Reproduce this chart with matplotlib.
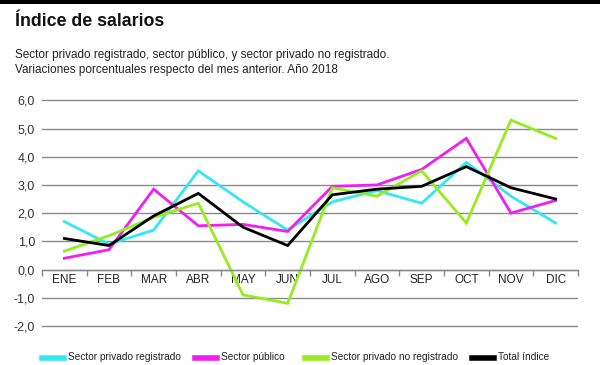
import matplotlib
matplotlib.use("Agg")
import matplotlib.pyplot as plt
from matplotlib.lines import Line2D
from matplotlib.patches import Rectangle

plt.rcParams['font.family'] = ['Liberation Sans', 'DejaVu Sans']

# Monthly data, % change vs previous month (2018)
months = ["ENE", "FEB", "MAR", "ABR", "MAY", "JUN",
          "JUL", "AGO", "SEP", "OCT", "NOV", "DIC"]
privado_registrado = [1.7, 0.9, 1.4, 3.5, 2.4, 1.4, 2.4, 2.8, 2.35, 3.8, 2.6, 1.65]
publico = [0.4, 0.7, 2.85, 1.55, 1.6, 1.35, 2.95, 3.0, 3.55, 4.65, 2.0, 2.45]
privado_no_registrado = [0.65, 1.2, 1.85, 2.35, -0.9, -1.2, 2.9, 2.6, 3.5, 1.65, 5.3, 4.65]
total = [1.1, 0.85, 1.9, 2.7, 1.5, 0.85, 2.65, 2.85, 2.95, 3.65, 2.9, 2.5]

series = [
    ("Sector privado registrado", privado_registrado, "#33e8f0"),
    ("Sector público", publico, "#f01ef0"),
    ("Sector privado no registrado", privado_no_registrado, "#96ec1e"),
    ("Total índice", total, "#000000"),
]

fig = plt.figure(figsize=(6.0, 3.65), dpi=100)
ax = fig.add_axes([0.07, 0.1025, 0.8933, 0.6249])

x = list(range(len(months)))
for label, vals, color in series:
    ax.plot(x, vals, color=color, linewidth=2.0, solid_joinstyle="miter")

ax.set_xlim(-0.5, len(months) - 0.5)
ax.set_ylim(-2.06, 6.03)
ax.set_yticks(range(-2, 7))
ax.set_yticklabels([f"{v},0" for v in range(-2, 7)])
ax.yaxis.grid(True, color="#8a8a8a", linewidth=1.0)
ax.set_axisbelow(True)

for s in ["top", "right", "left"]:
    ax.spines[s].set_visible(False)
ax.spines["bottom"].set_position(("data", 0))
ax.spines["bottom"].set_color("#8a8a8a")
ax.spines["bottom"].set_linewidth(1.0)

ax.set_xticks(x)
ax.set_xticklabels(months)
ax.set_xticks([i - 0.5 for i in range(len(months) + 1)], minor=True)
ax.tick_params(axis="x", which="major", length=0, pad=3.5, labelsize=8.5, labelcolor="#222222")
ax.tick_params(axis="x", which="minor", length=4, color="#8a8a8a", width=1.0)
ax.tick_params(axis="y", length=0, pad=5, labelsize=9, labelcolor="#333333")

# top black band
fig.add_artist(Rectangle((0, 1 - 4 / 365), 1, 4 / 365, transform=fig.transFigure,
                         color="black", lw=0))

fig.text(15 / 600, 1 - 22 / 365, "Índice de salarios", fontsize=12.8, fontweight="bold",
         va="center", ha="left", color="#111111")
fig.text(15 / 600, 1 - 55 / 365,
         "Sector privado registrado, sector público, y sector privado no registrado.",
         fontsize=8.5, va="center", ha="left", color="#222222")
fig.text(15 / 600, 1 - 70 / 365,
         "Variaciones porcentuales respecto del mes anterior. Año 2018",
         fontsize=8.5, va="center", ha="left", color="#222222")

# legend row along the bottom edge
leg_x = [42, 195, 305, 472]
for (label, vals, color), lx in zip(series, leg_x):
    fig.add_artist(Line2D([lx / 600, (lx + 22) / 600], [1 - 358 / 365, 1 - 358 / 365],
                          transform=fig.transFigure, color=color, linewidth=4))
    fig.text((lx + 26) / 600, 1 - 357 / 365, label, fontsize=7.3, va="center", ha="left",
             color="#222222")

fig.savefig("out.png", dpi=100)
